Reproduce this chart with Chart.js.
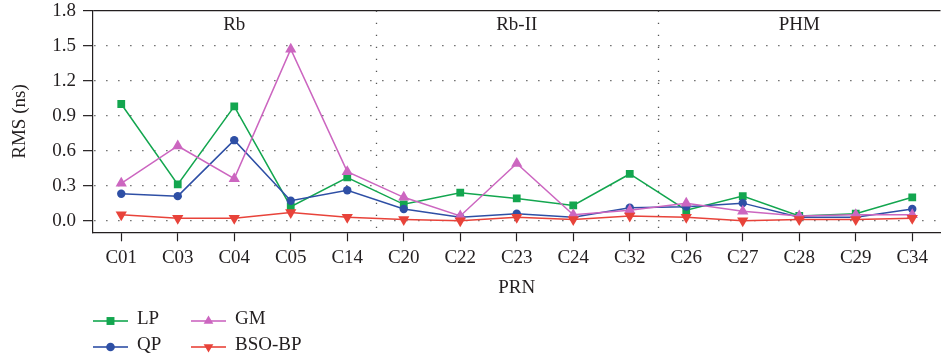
<!DOCTYPE html>
<html>
<head>
<meta charset="utf-8">
<title>RMS by PRN</title>
<script src="https://cdn.jsdelivr.net/npm/chart.js"></script>
<style>
  html, body { margin: 0; padding: 0; background: #fff; overflow: hidden; }
  #wrap { width: 947px; height: 363px; }
</style>
</head>
<body>
<div id="wrap"><canvas id="rmsChart" width="947" height="363"></canvas></div>
<script>
// PRNs along the x axis, in clock-type groups
const prns = ['C01', 'C03', 'C04', 'C05', 'C14', 'C20', 'C22', 'C23', 'C24', 'C32', 'C26', 'C27', 'C28', 'C29', 'C34'];
const clockGroups = ['Rb', 'Rb-II', 'PHM'];
const groupSizes = [5, 5, 5];

// RMS (ns) of each method per PRN
const lpRms  = [1.00, 0.31, 0.98, 0.12, 0.37, 0.14, 0.24, 0.19, 0.13, 0.40, 0.09, 0.21, 0.04, 0.06, 0.20];
const qpRms  = [0.23, 0.21, 0.69, 0.17, 0.26, 0.10, 0.03, 0.06, 0.03, 0.11, 0.12, 0.15, 0.03, 0.03, 0.10];
const gmRms  = [0.32, 0.64, 0.36, 1.47, 0.42, 0.20, 0.04, 0.49, 0.05, 0.09, 0.15, 0.08, 0.04, 0.05, 0.05];
const bsoRms = [0.05, 0.02, 0.02, 0.07, 0.03, 0.01, 0.00, 0.03, 0.01, 0.04, 0.03, 0.00, 0.01, 0.01, 0.02];

const yTicks = [0, 0.3, 0.6, 0.9, 1.2, 1.5, 1.8];

const FONT = '"Liberation Serif", "Times New Roman", serif';
const INK = '#231f20';
const DOT_COLOR = '#555';
const DOTS = [1.3, 10.7];

function series(label, data, color, pointStyle, radius, rotation, order) {
    return {
        label: label,
        data: data,
        borderColor: color,
        backgroundColor: color,
        pointBackgroundColor: color,
        pointBorderWidth: 0,
        pointStyle: pointStyle,
        pointRadius: radius,
        pointRotation: rotation,
        borderWidth: 1.5,
        tension: 0,
        order: order
    };
}

// Dotted separators between the clock groups, with the group names on top
const clockGroupPlugin = {
    id: 'clockGroups',
    beforeDatasetsDraw(chart) {
        const { ctx, chartArea, scales } = chart;
        const x = scales.x;
        let start = 0;

        ctx.save();
        ctx.strokeStyle = DOT_COLOR;
        ctx.lineWidth = 1.3;
        ctx.setLineDash(DOTS);
        groupSizes.forEach((n, i) => {
            if (i > 0) {
                const px = Math.round(x.getPixelForValue(start - 0.5)) + 0.5;
                ctx.beginPath();
                ctx.moveTo(px, chartArea.top);
                ctx.lineTo(px, chartArea.bottom);
                ctx.stroke();
            }
            start += n;
        });
        ctx.restore();

        ctx.save();
        ctx.font = '19px ' + FONT;
        ctx.fillStyle = INK;
        ctx.textAlign = 'center';
        ctx.textBaseline = 'middle';
        start = 0;
        groupSizes.forEach((n, i) => {
            const cx = x.getPixelForValue(start + (n - 1) / 2);
            ctx.fillText(clockGroups[i], cx, chartArea.top + 14);
            start += n;
        });
        ctx.restore();
    }
};

// Two-column key under the x axis
const seriesKeyPlugin = {
    id: 'seriesKey',
    afterDraw(chart) {
        const ctx = chart.ctx;
        const slots = [[93, 321], [93, 347], [191, 321], [191, 347]];
        chart.data.datasets.forEach((ds, i) => {
            const [lx, ly] = slots[i];
            ctx.save();
            ctx.globalAlpha = 0.8;
            ctx.strokeStyle = ds.borderColor;
            ctx.lineWidth = 1.8;
            ctx.beginPath();
            ctx.moveTo(lx, ly);
            ctx.lineTo(lx + 35, ly);
            ctx.stroke();
            ctx.globalAlpha = 1;
            ctx.fillStyle = ds.borderColor;
            Chart.helpers.drawPoint(ctx, {
                pointStyle: ds.pointStyle,
                rotation: ds.pointRotation,
                radius: ds.pointStyle === 'circle' ? 4.3 : 5.6,
                borderWidth: 0
            }, lx + 17.5, ly);
            ctx.font = '19px ' + FONT;
            ctx.fillStyle = INK;
            ctx.textAlign = 'left';
            ctx.textBaseline = 'middle';
            ctx.fillText(ds.label, lx + 44, ly - 1.5);
            ctx.restore();
        });
    }
};

function createRmsChart() {
    const isTop = c => c.tick && c.tick.value === 1.8;
    new Chart(document.getElementById('rmsChart'), {
        type: 'line',
        data: {
            labels: prns,
            datasets: [
                series('LP', lpRms, '#13a64f', 'rect', 5.5, 0, 4),
                series('QP', qpRms, '#2e4fa5', 'circle', 4.2, 0, 3),
                series('GM', gmRms, '#cc66c0', 'triangle', 6.5, 0, 2),
                series('BSO-BP', bsoRms, '#e8433a', 'triangle', 6.5, 180, 1)
            ]
        },
        options: {
            responsive: false,
            animation: false,
            layout: { padding: 0 },
            plugins: {
                legend: { display: false },
                tooltip: { enabled: false }
            },
            scales: {
                x: {
                    offset: true,
                    grid: { drawOnChartArea: false, tickLength: 9, tickColor: INK, tickWidth: 1.2 },
                    border: { color: INK, width: 1.2 },
                    ticks: {
                        color: INK,
                        font: { family: FONT, size: 19 },
                        padding: 5,
                        maxRotation: 0,
                        autoSkip: false
                    },
                    title: {
                        display: true,
                        text: 'PRN',
                        color: INK,
                        font: { family: FONT, size: 19 },
                        padding: { top: 0, bottom: 63.6 }
                    },
                    afterFit(scale) { scale.height = 130.7; }
                },
                y: {
                    min: -0.1,
                    max: 1.8,
                    afterBuildTicks(scale) { scale.ticks = yTicks.map(v => ({ value: v })); },
                    grid: {
                        color: c => isTop(c) ? INK : DOT_COLOR,
                        lineWidth: c => isTop(c) ? 1.2 : 1.3,
                        tickLength: 10,
                        tickColor: INK,
                        tickWidth: 1.2
                    },
                    border: {
                        color: INK,
                        width: 1.2,
                        dash: c => isTop(c) ? [] : DOTS,
                        dashOffset: 11
                    },
                    ticks: {
                        color: INK,
                        // small line height keeps the top of the plot close to the canvas edge
                        font: { family: FONT, size: 19, lineHeight: 0.39 },
                        padding: 7,
                        callback: v => v.toFixed(1)
                    },
                    title: {
                        display: true,
                        text: 'RMS (ns)',
                        color: INK,
                        font: { family: FONT, size: 19 },
                        padding: { top: 8.6, bottom: 0 }
                    },
                    afterFit(scale) { scale.width = 93; }
                }
            }
        },
        plugins: [clockGroupPlugin, seriesKeyPlugin]
    });
}

document.addEventListener('DOMContentLoaded', () => {
    createRmsChart();
});
</script>
</body>
</html>
